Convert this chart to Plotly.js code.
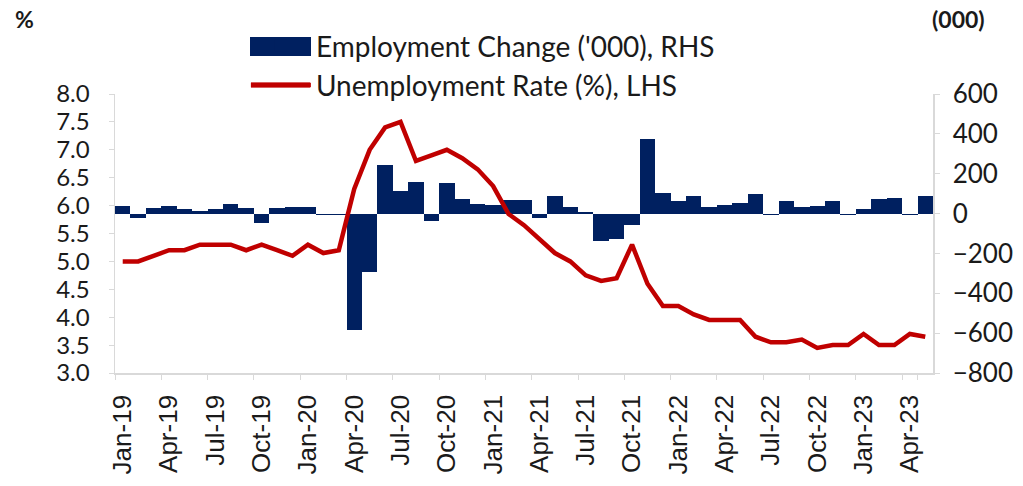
<!DOCTYPE html>
<html>
<head>
<meta charset="utf-8">
<script src="https://cdn.plot.ly/plotly-3.0.1.min.js"></script>
<style>html,body{margin:0;padding:0;background:#fff;}#chart{width:1023px;height:486px;}</style>
</head>
<body>
<div id="chart"></div>
<script>
const months = [
  "Jan-19","Feb-19","Mar-19","Apr-19","May-19","Jun-19","Jul-19","Aug-19","Sep-19","Oct-19","Nov-19","Dec-19",
  "Jan-20","Feb-20","Mar-20","Apr-20","May-20","Jun-20","Jul-20","Aug-20","Sep-20","Oct-20","Nov-20","Dec-20",
  "Jan-21","Feb-21","Mar-21","Apr-21","May-21","Jun-21","Jul-21","Aug-21","Sep-21","Oct-21","Nov-21","Dec-21",
  "Jan-22","Feb-22","Mar-22","Apr-22","May-22","Jun-22","Jul-22","Aug-22","Sep-22","Oct-22","Nov-22","Dec-22",
  "Jan-23","Feb-23","Mar-23","Apr-23","May-23"
];
const employmentChange = [
  40,-20,30,40,25,15,25,50,30,-45,28,33,
  33,-5,-5,-585,-295,245,115,160,-38,155,75,50,
  42,67,67,-20,90,33,10,-138,-130,-58,372,102,
  62,86,32,45,55,100,-8,62,33,38,63,-8,
  25,72,80,-8,87
];
const unemploymentRate = [
  5.0,5.0,5.1,5.2,5.2,5.3,5.3,5.3,5.2,5.3,5.2,5.1,
  5.3,5.15,5.2,6.3,7.0,7.4,7.5,6.8,6.9,7.0,6.85,6.65,
  6.35,5.85,5.65,5.4,5.15,5.0,4.75,4.65,4.7,5.3,4.6,4.2,
  4.2,4.05,3.95,3.95,3.95,3.65,3.55,3.55,3.6,3.45,3.5,3.5,
  3.7,3.5,3.5,3.7,3.65
];
const tickLabels = ["Jan-19","Apr-19","Jul-19","Oct-19","Jan-20","Apr-20","Jul-20","Oct-20","Jan-21","Apr-21","Jul-21","Oct-21","Jan-22","Apr-22","Jul-22","Oct-22","Jan-23","Apr-23"];
const seriesNames = ["Employment Change ('000), RHS", "Unemployment Rate (%), LHS"];

const navy = "#002060", red = "#C00000", axisGray = "#D9D9D9", txt = "#1a1a1a";

const traces = [
  {type: "bar", name: seriesNames[0], x: months, y: employmentChange, yaxis: "y",
   marker: {color: navy, line: {width: 0}}, hoverinfo: "x+y"},
  {type: "scatter", mode: "lines", name: seriesNames[1], x: months, y: unemploymentRate, yaxis: "y2",
   line: {color: red, width: 4.5}}
];

// plot area: x 115..933 px, y 94..373 px
const PX = v => (v - 115) / 818;
const PY = v => (373 - v) / 279;

const layout = {
  width: 1023, height: 486,
  margin: {l: 115, r: 90, t: 94, b: 113},
  paper_bgcolor: "#fff", plot_bgcolor: "#fff",
  bargap: 0,
  showlegend: true,
  legend: {x: 0.16, y: PY(21), xanchor: "left", yanchor: "top", bgcolor: "rgba(0,0,0,0)",
           font: {family: "Lato, 'Open Sans', sans-serif", size: 28, color: txt}, itemwidth: 60, tracegroupgap: 0},
  xaxis: {type: "category", range: [-0.5, 52.5], tickmode: "array", tickvals: tickLabels, ticktext: tickLabels,
          tickson: "boundaries", tickangle: -90, ticks: "outside", ticklen: 5, tickcolor: axisGray,
          ticklabelstandoff: 10,
          showline: true, linecolor: axisGray, linewidth: 1.5, showgrid: false, zeroline: false,
          tickfont: {family: "'Liberation Sans', Arial, sans-serif", size: 26, color: txt}},
  yaxis: {side: "right", range: [-800, 600], dtick: 200, tick0: 0, ticks: "outside", ticklen: 5, tickcolor: axisGray,
          ticklabelstandoff: 8,
          showline: true, linecolor: axisGray, linewidth: 1.5, showgrid: false, zeroline: false,
          tickfont: {family: "Lato, 'Open Sans', sans-serif", size: 26, color: txt}},
  yaxis2: {side: "left", overlaying: "y", range: [3, 8], dtick: 0.5, tick0: 3, tickformat: ".1f",
           ticks: "outside", ticklen: 5, tickcolor: axisGray, ticklabelstandoff: 14,
           showline: true, linecolor: axisGray, linewidth: 1.5, showgrid: false, zeroline: false,
           tickfont: {family: "Lato, 'Open Sans', sans-serif", size: 24, color: txt}},
  shapes: [
    {type: "rect", xref: "paper", yref: "paper", x0: PX(250), x1: PX(311), y0: PY(56), y1: PY(37),
     fillcolor: navy, line: {width: 0}},
    {type: "line", xref: "paper", yref: "paper", x0: PX(251), x1: PX(310), y0: PY(85), y1: PY(85),
     line: {color: red, width: 5}}
  ],
  annotations: [
    {text: "<b>%</b>", xref: "paper", yref: "paper", x: PX(24), y: PY(19), xanchor: "center", yanchor: "middle",
     showarrow: false, font: {family: "Lato, sans-serif", size: 23, color: txt}},
    {text: "<b>(000)</b>", xref: "paper", yref: "paper", x: PX(958), y: PY(19), xanchor: "center", yanchor: "middle",
     showarrow: false, font: {family: "Lato, sans-serif", size: 23, color: txt}}
  ]
};

Plotly.newPlot("chart", traces, layout, {displayModeBar: false, staticPlot: true});
</script>
</body>
</html>
